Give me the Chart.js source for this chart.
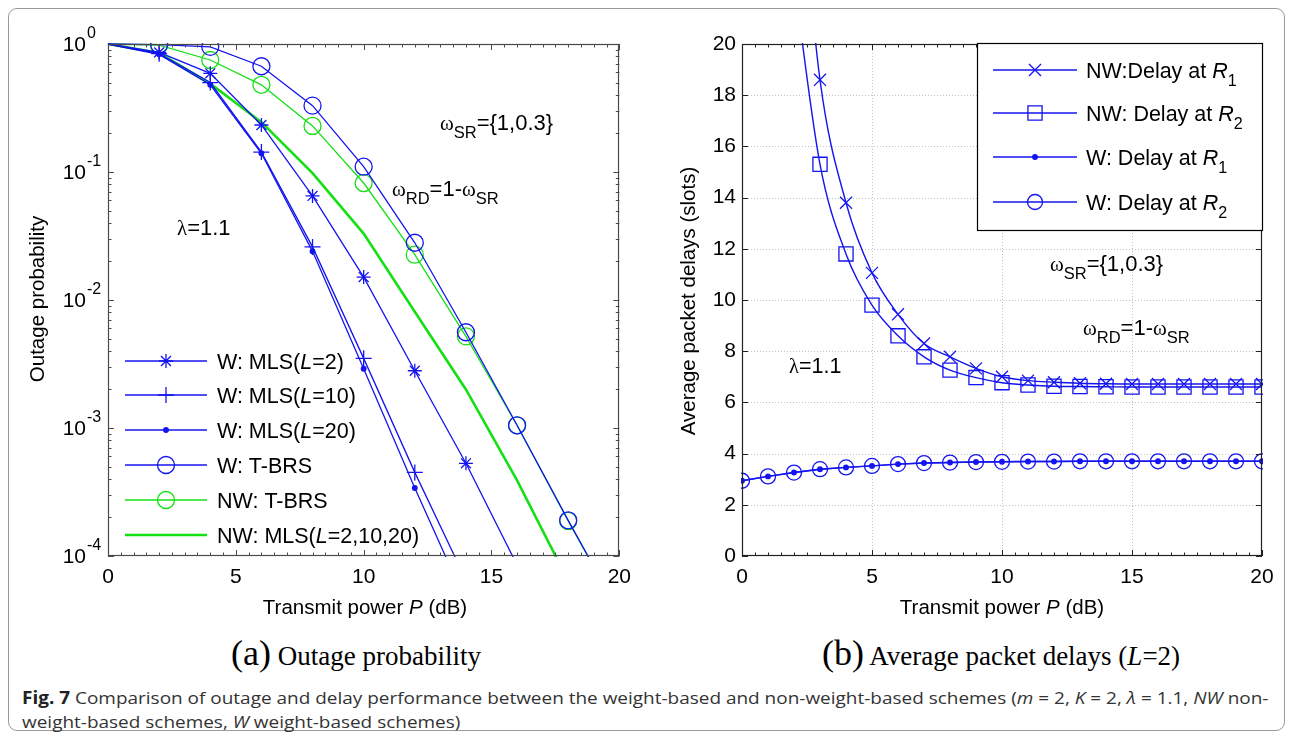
<!DOCTYPE html>
<html>
<head>
<meta charset="utf-8">
<title>Fig. 7</title>
<script src="https://cdn.jsdelivr.net/npm/chart.js@4.4.1/dist/chart.umd.min.js"></script>
<style>
  html, body { margin: 0; padding: 0; background: #fff; }
  body { width: 1293px; height: 739px; position: relative; overflow: hidden; }
  .frame { position: absolute; left: 8px; top: 8px; width: 1277px; height: 723px; box-sizing: border-box; border: 1px solid #9a9a9a; border-radius: 9px; }
  canvas { position: absolute; top: 0; }
  #outage { left: 0; }
  #delay { left: 640px; }
  .sub { position: absolute; top: 634px; font-family: "Liberation Serif", "Times New Roman", serif; font-size: 27px; color: #000; white-space: nowrap; line-height: 38px; }
  .sub .big { font-size: 36px; }
  .cap { position: absolute; left: 22px; font-family: "Open Sans", "Noto Sans", sans-serif; font-size: 17px; color: #333; white-space: nowrap; transform-origin: 0 0; line-height: 20px; }
  .cap b { color: #222; }
</style>
</head>
<body>
<div class="frame"></div>
<canvas id="outage" width="640" height="630"></canvas>
<canvas id="delay" width="653" height="630"></canvas>
<div class="sub" id="subA"><span class="big">(a)</span> Outage probability</div>
<div class="sub" id="subB"><span class="big">(b)</span> Average packet delays (<i>L</i>=2)</div>
<div class="cap" id="cap1" style="top:688px"><b>Fig. 7</b> Comparison of outage and delay performance between the weight-based and non-weight-based schemes (<i>m</i> = 2, <i>K</i> = 2, <i>λ</i> = 1.1, <i>NW</i> non-</div>
<div class="cap" id="cap2" style="top:712px">weight-based schemes, <i>W</i> weight-based schemes)</div>
<script>
// (a) outage probability
const outagePower = [0, 2, 4, 6, 8, 10, 12, 14, 16, 18, 20];
const outageWMlsL2 = [1, 0.86, 0.59, 0.233, 0.065, 0.0151, 0.0028, 0.00053, 0.000085, 0.000015, null];
const outageWMlsL10 = [1, 0.84, 0.5, 0.143, 0.026, 0.0035, 0.00045, 0.000065, null, null, null];
const outageWMlsL20 = [1, 0.83, 0.48, 0.14, 0.024, 0.0029, 0.00034, 0.000044, null, null, null];
const outageWTbrs = [1, 0.99, 0.95, 0.67, 0.33, 0.11, 0.028, 0.0056, 0.00105, 0.00019, 0.000036];
const outageNwTbrs = [1, 0.98, 0.75, 0.48, 0.229, 0.082, 0.0226, 0.0052, 0.00105, 0.000188, 0.000036];
const outageNwMls = [1, 0.85, 0.49, 0.245, 0.098, 0.033, 0.0081, 0.002, 0.00039, 0.000064, null];
const powerTicks = [0, 5, 10, 15, 20];
const outageTicks = [1e-4, 1e-3, 1e-2, 1e-1, 1];

// (b) average packet delays (slots), L=2
const delayPower = [0, 1, 2, 3, 4, 5, 6, 7, 8, 9, 10, 11, 12, 13, 14, 15, 16, 17, 18, 19, 20];
const delayNwR1 = [null, null, 29, 18.6, 13.8, 11.06, 9.44, 8.3, 7.78, 7.33, 7.0, 6.85, 6.79, 6.75, 6.73, 6.72, 6.72, 6.72, 6.72, 6.72, 6.72];
const delayNwR2 = [null, null, 22.5, 15.3, 11.8, 9.8, 8.6, 7.78, 7.26, 6.97, 6.77, 6.68, 6.63, 6.62, 6.61, 6.6, 6.6, 6.6, 6.6, 6.6, 6.6];
const delayWR1 = [2.94, 3.11, 3.26, 3.39, 3.46, 3.52, 3.59, 3.63, 3.65, 3.67, 3.68, 3.69, 3.69, 3.7, 3.7, 3.7, 3.7, 3.7, 3.7, 3.7, 3.7];
const delayWR2 = [2.94, 3.11, 3.26, 3.39, 3.46, 3.52, 3.59, 3.63, 3.65, 3.67, 3.68, 3.69, 3.69, 3.7, 3.7, 3.7, 3.7, 3.7, 3.7, 3.7, 3.7];
const delayTicks = [0, 2, 4, 6, 8, 10, 12, 14, 16, 18, 20];

const SANS = '"Liberation Sans", Arial, Helvetica, sans-serif';
const SERIF = '"Liberation Serif", "Times New Roman", serif';
const BLUE = "#1414f0";
const GREEN = "#14e014";

const points = (xs, ys) =>
  xs.map((x, i) => ({ x, y: ys[i] })).filter((p) => p.y !== null);

// text with italic / subscript / superscript pieces, drawn on the canvas
function richText(ctx, parts, x, y, size, align) {
  const fontOf = (kind) => {
    const small = kind.includes("sub") || kind.includes("sup");
    const s = small ? size * 0.75 : kind.includes("sym") ? size * 0.95 : size;
    const it = kind.startsWith("i") ? "italic " : "";
    const fam = kind.includes("sym") ? SERIF : SANS;
    return it + s + "px " + fam;
  };
  let w = 0;
  parts.forEach(([t, k]) => {
    ctx.font = fontOf(k);
    w += ctx.measureText(t).width;
  });
  let cx = align === "center" ? x - w / 2 : align === "right" ? x - w : x;
  ctx.textAlign = "left";
  ctx.textBaseline = "alphabetic";
  parts.forEach(([t, k]) => {
    ctx.font = fontOf(k);
    const dy = k.includes("sub") ? size * 0.38 : k.includes("sup") ? -size * 0.45 : 0;
    ctx.fillText(t, cx, y + dy);
    cx += ctx.measureText(t).width;
  });
}

// MATLAB style box with inward ticks
const axesBox = {
  id: "axesBox",
  beforeDatasetsDraw(chart, args, o) {
    if (!o.grid) return;
    const { ctx, chartArea: a, scales } = chart;
    ctx.save();
    ctx.strokeStyle = "#c4c4c4";
    ctx.lineWidth = 1;
    ctx.setLineDash([1, 2]);
    ctx.beginPath();
    o.xMajor.forEach((v) => {
      const p = Math.round(scales.x.getPixelForValue(v)) + 0.5;
      if (p > a.left + 1 && p < a.right - 1) { ctx.moveTo(p, a.top); ctx.lineTo(p, a.bottom); }
    });
    o.yMajor.forEach((v) => {
      const p = Math.round(scales.y.getPixelForValue(v)) + 0.5;
      if (p > a.top + 1 && p < a.bottom - 1) { ctx.moveTo(a.left, p); ctx.lineTo(a.right, p); }
    });
    ctx.stroke();
    ctx.restore();
  },
  afterDatasetsDraw(chart, args, o) {
    const { ctx, chartArea: a, scales } = chart;
    ctx.save();
    ctx.strokeStyle = o.color;
    ctx.lineWidth = 1;
    ctx.beginPath();
    const vt = (v, len) => {
      const p = Math.round(scales.x.getPixelForValue(v)) + 0.5;
      ctx.moveTo(p, a.bottom); ctx.lineTo(p, a.bottom - len);
      ctx.moveTo(p, a.top); ctx.lineTo(p, a.top + len);
    };
    const ht = (v, len) => {
      const p = Math.round(scales.y.getPixelForValue(v)) + 0.5;
      ctx.moveTo(a.left, p); ctx.lineTo(a.left + len, p);
      ctx.moveTo(a.right, p); ctx.lineTo(a.right - len, p);
    };
    o.xMajor.forEach((v) => vt(v, 6));
    o.xMinor.forEach((v) => vt(v, 3.5));
    o.yMajor.forEach((v) => ht(v, 6));
    o.yMinor.forEach((v) => ht(v, 3.5));
    ctx.stroke();
    ctx.lineWidth = 1.2;
    ctx.strokeRect(Math.round(a.left) + 0.5, Math.round(a.top) + 0.5,
      Math.round(a.right - a.left) - 1, Math.round(a.bottom - a.top) - 1);
    ctx.restore();
  },
};

// titles, notes and legend drawn as text on the canvas
const figText = {
  id: "figText",
  afterDraw(chart, args, o) {
    const { ctx } = chart;
    ctx.save();
    ctx.fillStyle = "#000";
    if (o.logLabels) {
      o.logLabels.forEach((v) => {
        const p = chart.scales.y.getPixelForValue(v);
        const e = String(Math.round(Math.log10(v)));
        ctx.font = "21px " + SANS;
        ctx.textAlign = "right";
        ctx.textBaseline = "middle";
        ctx.fillText("10", 86, p + 1);
        ctx.font = "16px " + SANS;
        ctx.textAlign = "left";
        ctx.fillText(e, 87, p - 10);
      });
    }
    richText(ctx, o.xTitle, o.xTitleAt[0], o.xTitleAt[1], 20.5, "center");
    ctx.save();
    ctx.translate(o.yTitleAt[0], o.yTitleAt[1]);
    ctx.rotate(-Math.PI / 2);
    richText(ctx, o.yTitle, 0, 0, 20.5, "center");
    ctx.restore();
    o.notes.forEach((n) => richText(ctx, n.parts, n.x, n.y, n.size, "left"));

    const lg = o.legend;
    if (lg.box) {
      ctx.fillStyle = "#fff";
      ctx.fillRect(lg.box[0], lg.box[1], lg.box[2], lg.box[3]);
      ctx.strokeStyle = "#000";
      ctx.lineWidth = 1.2;
      ctx.strokeRect(lg.box[0] + 0.5, lg.box[1] + 0.5, lg.box[2] - 1, lg.box[3] - 1);
    }
    chart.data.datasets.forEach((ds, i) => {
      const y = lg.rows[i];
      ctx.strokeStyle = ds.borderColor;
      ctx.lineWidth = ds.borderWidth;
      ctx.beginPath();
      ctx.moveTo(lg.line[0], y);
      ctx.lineTo(lg.line[1], y);
      ctx.stroke();
      if (ds.legendRadius) {
        ctx.strokeStyle = ds.pointBorderColor;
        ctx.fillStyle = ds.pointBackgroundColor;
        ctx.lineWidth = ds.pointBorderWidth;
        Chart.helpers.drawPoint(ctx, { pointStyle: ds.pointStyle, radius: ds.legendRadius, borderWidth: ds.pointBorderWidth, rotation: 0 }, (lg.line[0] + lg.line[1]) / 2, y);
      }
      ctx.fillStyle = "#000";
      richText(ctx, lg.labels[i], lg.textX, y + 8, 21.5, "left");
    });
    ctx.restore();
  },
};

const hideFirst = (r) => (c) => (c.raw && c.raw.x === 0 ? 0 : r);

const outageSeries = (label, ys, color, style, r, extra) =>
  Object.assign({
    label,
    data: points(outagePower, ys),
    borderColor: color,
    borderWidth: 1.3,
    pointStyle: style,
    pointRadius: r ? hideFirst(r) : 0,
    legendRadius: r,
    pointBorderColor: color,
    pointBackgroundColor: style === "circle" && r < 4 ? color : "rgba(0,0,0,0)",
    pointBorderWidth: 1.3,
    tension: 0,
    clip: 1,
  }, extra || {});

new Chart(document.getElementById("outage"), {
  type: "line",
  data: {
    datasets: [
      outageSeries("W: MLS(L=2)", outageWMlsL2, BLUE, "star", 7),
      outageSeries("W: MLS(L=10)", outageWMlsL10, BLUE, "cross", 8),
      outageSeries("W: MLS(L=20)", outageWMlsL20, BLUE, "circle", 2.3),
      outageSeries("W: T-BRS", outageWTbrs, BLUE, "circle", 8.5),
      outageSeries("NW: T-BRS", outageNwTbrs, GREEN, "circle", 8.5),
      outageSeries("NW: MLS(L=2,10,20)", outageNwMls, GREEN, "circle", 0, { borderWidth: 2.6 }),
    ],
  },
  options: {
    responsive: false,
    animation: false,
    events: [],
    layout: { padding: { top: 44, right: 17, left: 0, bottom: 0 } },
    plugins: {
      legend: { display: false },
      tooltip: { enabled: false },
      axesBox: {
        color: "#4a4a4a",
        xMajor: powerTicks,
        xMinor: Array.from({ length: 41 }, (_, i) => i / 2).filter((v) => v % 5 !== 0),
        yMajor: outageTicks,
        yMinor: [1e-4, 1e-3, 1e-2, 1e-1].flatMap((d) => [2, 3, 4, 5, 6, 7, 8, 9].map((m) => m * d)),
      },
      figText: {
        logLabels: outageTicks,
        xTitle: [["Transmit power ", ""], ["P", "i"], [" (dB)", ""]],
        xTitleAt: [365, 614],
        yTitle: [["Outage probability", ""]],
        yTitleAt: [44, 299],
        notes: [
          { parts: [["\u03bb", "sym"], ["=1.1", ""]], x: 177, y: 235, size: 22 },
          { parts: [["\u03c9", "sym"], ["SR", "sub"], ["={1,0.3}", ""]], x: 440, y: 130, size: 22 },
          { parts: [["\u03c9", "sym"], ["RD", "sub"], ["=1-", ""], ["\u03c9", "sym"], ["SR", "sub"]], x: 392, y: 196, size: 22 },
        ],
        legend: {
          rows: [361, 395, 430, 465, 500, 535],
          line: [125, 207],
          textX: 217,
          labels: [
            [["W: MLS(", ""], ["L", "i"], ["=2)", ""]],
            [["W: MLS(", ""], ["L", "i"], ["=10)", ""]],
            [["W: MLS(", ""], ["L", "i"], ["=20)", ""]],
            [["W: T-BRS", ""]],
            [["NW: T-BRS", ""]],
            [["NW: MLS(", ""], ["L", "i"], ["=2,10,20)", ""]],
          ],
        },
      },
    },
    scales: {
      x: {
        type: "linear",
        min: 0,
        max: 20,
        afterFit: (s) => { s.height = 74; },
        grid: { display: false, drawTicks: false },
        border: { display: false },
        ticks: { stepSize: 5, color: "#000", padding: 9, maxRotation: 0, font: { family: SANS, size: 21 } },
      },
      y: {
        type: "logarithmic",
        min: 1e-4,
        max: 1,
        afterFit: (s) => { s.width = 108; },
        afterBuildTicks: (s) => { s.ticks = outageTicks.map((v) => ({ value: v })); },
        grid: { display: false, drawTicks: false },
        border: { display: false },
        ticks: { display: false },
      },
    },
  },
  plugins: [axesBox, figText],
});

const delaySeries = (label, ys, style, r, smooth) => ({
  label,
  data: points(delayPower, ys),
  borderColor: BLUE,
  borderWidth: 1.4,
  pointStyle: style,
  pointRadius: r,
  legendRadius: r,
  pointBorderColor: BLUE,
  pointBackgroundColor: style === "circle" && r < 4 ? BLUE : "rgba(0,0,0,0)",
  pointBorderWidth: 1.3,
  cubicInterpolationMode: smooth ? "monotone" : "default",
  tension: 0,
  clip: 1,
});

new Chart(document.getElementById("delay"), {
  type: "line",
  data: {
    datasets: [
      delaySeries("NW:Delay at R1", delayNwR1, "crossRot", 8.5, true),
      delaySeries("NW: Delay at R2", delayNwR2, "rect", 10, true),
      delaySeries("W: Delay at R1", delayWR1, "circle", 2.3, false),
      delaySeries("W: Delay at R2", delayWR2, "circle", 7.5, false),
    ],
  },
  options: {
    responsive: false,
    animation: false,
    events: [],
    layout: { padding: { top: 44, right: 31, left: 0, bottom: 0 } },
    plugins: {
      legend: { display: false },
      tooltip: { enabled: false },
      axesBox: {
        color: "#222",
        grid: true,
        xMajor: powerTicks,
        xMinor: Array.from({ length: 41 }, (_, i) => i / 2).filter((v) => v % 5 !== 0),
        yMajor: delayTicks,
        yMinor: [],
      },
      figText: {
        xTitle: [["Transmit power ", ""], ["P", "i"], [" (dB)", ""]],
        xTitleAt: [362, 614],
        yTitle: [["Average packet delays (slots)", ""]],
        yTitleAt: [55, 301],
        notes: [
          { parts: [["\u03bb", "sym"], ["=1.1", ""]], x: 149, y: 373, size: 21.5 },
          { parts: [["\u03c9", "sym"], ["SR", "sub"], ["={1,0.3}", ""]], x: 410, y: 271, size: 22 },
          { parts: [["\u03c9", "sym"], ["RD", "sub"], ["=1-", ""], ["\u03c9", "sym"], ["SR", "sub"]], x: 443, y: 335, size: 22 },
        ],
        legend: {
          box: [337, 43, 286, 188],
          rows: [70, 113, 157, 202],
          line: [353, 437],
          textX: 446,
          labels: [
            [["NW:Delay at ", ""], ["R", "i"], ["1", "sub"]],
            [["NW: Delay at ", ""], ["R", "i"], ["2", "sub"]],
            [["W: Delay at ", ""], ["R", "i"], ["1", "sub"]],
            [["W: Delay at ", ""], ["R", "i"], ["2", "sub"]],
          ],
        },
      },
    },
    scales: {
      x: {
        type: "linear",
        min: 0,
        max: 20,
        afterFit: (s) => { s.height = 74; },
        grid: { display: false, drawTicks: false },
        border: { display: false },
        ticks: { stepSize: 5, color: "#000", padding: 9, maxRotation: 0, font: { family: SANS, size: 21 } },
      },
      y: {
        type: "linear",
        min: 0,
        max: 20,
        afterFit: (s) => { s.width = 102; },
        grid: { display: false, drawTicks: false },
        border: { display: false },
        ticks: { stepSize: 2, color: "#000", padding: 6, font: { family: SANS, size: 21 } },
      },
    },
  },
  plugins: [axesBox, figText],
});

// sub-captions centred under each panel, caption squeezed to the original width
const place = (id, cx) => {
  const el = document.getElementById(id);
  el.style.left = cx - el.offsetWidth / 2 + "px";
};
place("subA", 356);
place("subB", 1001);
const c1 = document.getElementById("cap1");
const k = 1246 / c1.offsetWidth;
c1.style.transform = "scaleX(" + k + ")";
document.getElementById("cap2").style.transform = "scaleX(" + k + ")";
</script>
</body>
</html>
